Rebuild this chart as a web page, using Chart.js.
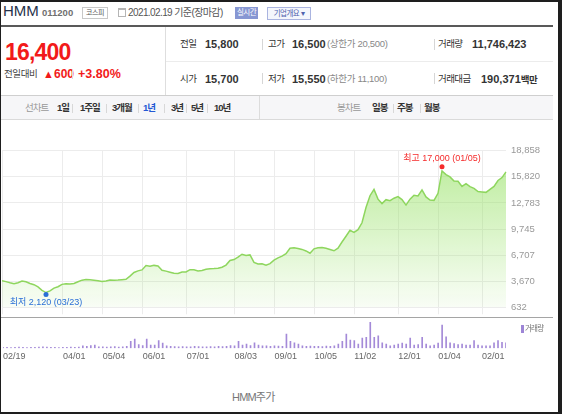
<!DOCTYPE html>
<html lang="ko">
<head>
<meta charset="utf-8">
<title>HMM주가</title>
<script src="https://cdn.jsdelivr.net/npm/chart.js@4.4.1/dist/chart.umd.min.js"></script>
<style>
html, body { margin: 0; padding: 0; background: #fff; }
body { width: 562px; height: 414px; position: relative; overflow: hidden;
       font-family: "Liberation Sans", "Noto Sans CJK KR", sans-serif; color: #333; }
.t { position: absolute; white-space: nowrap; line-height: 14px; }
.b { font-weight: bold; }
.box { position: absolute; }
.red { color: #f21a1a; }
.blue { color: #1f66dd; }
.gray { color: #888; }
.sep { position: absolute; width: 1px; height: 11px; background: #d6d6d6; }
.lab { font-size: 9.5px; color: #333; letter-spacing: -0.6px; }
.val { font-size: 11px; font-weight: bold; color: #333; letter-spacing: 0; }
.tab { font-size: 9.5px; font-weight: bold; color: #333; top: 101px; letter-spacing: -1px; }
.tsep { position: absolute; width: 1px; height: 9px; background: #d8d8d8; top: 104px; }
#frame { position: absolute; left: 0; top: 0; width: 562px; height: 414px; box-sizing: border-box;
         border-style: solid; border-color: #1e1e1e; border-width: 2px 4px 2px 1px; z-index: 10; }
canvas { position: absolute; left: 0; }
</style>
</head>
<body>
<div id="frame"></div>

<!-- 상단 종목 정보 -->
<div class="t" style="left:3px;top:3px;font-size:15px;line-height:15px;color:#26324a;">HMM</div>
<div class="t b" style="left:42px;top:5.6px;font-size:9.5px;color:#707070;">011200</div>
<div class="box" style="left:82px;top:7px;width:24px;height:10px;border:1px solid #c8c8c8;font-size:7px;line-height:10px;text-align:center;color:#555;letter-spacing:-0.5px;">코스피</div>
<div class="box" style="left:118px;top:8px;width:6px;height:6px;border:1px solid #b5b5b5;border-top-width:2px;"></div>
<div class="t" style="left:128px;top:5.8px;font-size:10px;color:#555;letter-spacing:-0.6px;">2021.02.19 기준(장마감)</div>
<div class="box" style="left:235px;top:7px;width:23px;height:12px;background:#8797d3;color:#fff;font-size:7.5px;line-height:12px;text-align:center;letter-spacing:-0.5px;">실시간</div>
<div class="box" style="left:267px;top:7px;width:42px;height:11px;border:1px solid #aab4e0;background:#f4f6fc;color:#4f62ad;font-size:7.5px;line-height:11px;text-align:center;letter-spacing:-0.5px;">기업개요 ▾</div>

<div class="box" style="left:0;top:25px;width:553px;height:2px;background:#595959;"></div>
<div class="box" style="left:165px;top:27px;width:1px;height:68px;background:#dedede;"></div>
<div class="box" style="left:166px;top:61px;width:387px;height:1px;background:#ececec;"></div>
<div class="box" style="left:0;top:95px;width:553px;height:1px;background:#cfcfcf;"></div>

<!-- 현재가 -->
<div class="t b red" style="left:5px;top:39.5px;font-size:23px;line-height:24px;letter-spacing:-0.8px;">16,400</div>
<div class="t" style="left:4px;top:67px;font-size:9.5px;color:#444;letter-spacing:-0.4px;">전일대비</div>
<div class="t red" style="left:43px;top:67px;font-size:11px;">▲</div>
<div class="t b red" style="left:54px;top:67px;font-size:12px;">600</div>
<div class="box" style="left:72px;top:69px;width:1px;height:10px;background:#ddd;"></div>
<div class="t b red" style="left:78px;top:67px;font-size:12.5px;">+3.80%</div>

<!-- 1행 -->
<div class="t lab" style="left:180px;top:37px;">전일</div>
<div class="t val" style="left:205px;top:37px;">15,800</div>
<div class="sep" style="left:262px;top:38.5px;"></div>
<div class="t lab" style="left:268px;top:37px;">고가</div>
<div class="t val red" style="left:292px;top:37px;">16,500</div>
<div class="t gray" style="left:327px;top:37px;font-size:9.5px;letter-spacing:-0.3px;">(상한가 20,500)</div>
<div class="sep" style="left:434px;top:38.5px;"></div>
<div class="t lab" style="left:438px;top:37px;">거래량</div>
<div class="t val" style="left:472px;top:37px;">11,746,423</div>

<!-- 2행 -->
<div class="t lab" style="left:180px;top:71.5px;">시가</div>
<div class="t val blue" style="left:205px;top:71.5px;">15,700</div>
<div class="sep" style="left:262px;top:73px;"></div>
<div class="t lab" style="left:268px;top:71.5px;">저가</div>
<div class="t val blue" style="left:292px;top:71.5px;">15,550</div>
<div class="t gray" style="left:327px;top:71.5px;font-size:9.5px;letter-spacing:-0.3px;">(하한가 11,100)</div>
<div class="sep" style="left:434px;top:73px;"></div>
<div class="t lab" style="left:438px;top:71.5px;">거래대금</div>
<div class="t val" style="left:481px;top:71.5px;">190,371<span style="font-size:9.5px;letter-spacing:-0.6px;">백만</span></div>

<!-- 탭 -->
<div class="box" style="left:0;top:96px;width:553px;height:23px;background:#f6f6f8;border-bottom:1px solid #dadada;"></div>
<div class="box" style="left:259px;top:96px;width:1px;height:23px;background:#dcdcdc;"></div>
<div class="t tab" style="left:25px;color:#999;font-weight:normal;">선차트</div>
<div class="t tab" style="left:57px;">1일</div>
<div class="tsep" style="left:72px;"></div>
<div class="t tab" style="left:80px;">1주일</div>
<div class="tsep" style="left:106px;"></div>
<div class="t tab" style="left:112px;">3개월</div>
<div class="tsep" style="left:138px;"></div>
<div class="t tab" style="left:143px;color:#2458d4;">1년</div>
<div class="tsep" style="left:164px;"></div>
<div class="t tab" style="left:171px;">3년</div>
<div class="tsep" style="left:186px;"></div>
<div class="t tab" style="left:191px;">5년</div>
<div class="tsep" style="left:207px;"></div>
<div class="t tab" style="left:214px;">10년</div>
<div class="t tab" style="left:337px;color:#999;font-weight:normal;">봉차트</div>
<div class="t tab" style="left:372px;">일봉</div>
<div class="tsep" style="left:393px;"></div>
<div class="t tab" style="left:397px;">주봉</div>
<div class="tsep" style="left:420px;"></div>
<div class="t tab" style="left:424px;">월봉</div>

<!-- 차트 -->
<canvas id="priceChart" width="553" height="178" style="top:140px;"></canvas>
<div class="box" style="left:0;top:317px;width:553px;height:1px;background:#a5a5a5;"></div>
<canvas id="volumeChart" width="553" height="47" style="top:318px;"></canvas>
<div class="box" style="left:521px;top:325px;width:2.5px;height:8px;background:#9d85d6;"></div>
<div class="t" style="left:525px;top:322px;font-size:7.5px;color:#777;letter-spacing:-0.8px;">거래량</div>

<div class="t" style="left:232px;top:390px;font-size:11px;color:#777;letter-spacing:-0.8px;">HMM주가</div>

<script>
// 그림에서 읽은 값 (1년 종가, 약 2거래일 간격)
const tickDates = ['02/19', '04/01', '05/04', '06/01', '07/01', '08/03', '09/01', '10/05', '11/02', '12/01', '01/04', '02/01'];
const tickIdx = [0, 15, 25, 35, 46, 58, 68, 78, 88, 99, 109, 120];
const yTicks = [632, 3670, 6707, 9745, 12783, 15820, 18858];

const prices = [
   3710, 3620, 3490, 3380, 3490, 3690, 3610, 3410, 3260, 3000,
   2610, 2350, 2540, 2860, 3030, 3300, 3380, 3350, 3400, 3610,
   3790, 3860, 3840, 3790, 3720, 3630, 3690, 3800, 3780, 3800,
   3840, 3890, 4260, 4690, 4870, 4980, 5490, 5400, 5510, 5440,
   4950, 4840, 4720, 4600, 4560, 4730, 4750, 5010, 4990, 4870,
   4910, 5070, 5120, 5140, 5190, 5290, 5550, 6090, 6190, 6470,
   6810, 6670, 6730, 5860, 5670, 5700, 5520, 5720, 6120, 6390,
   6580, 6870, 7500, 7570, 7470, 7370, 7190, 6920, 7440, 7550,
   7600, 7500, 7350, 7210, 7520, 8230, 8900, 9590, 9360, 9670,
   10470, 12240, 13620, 14360, 13220, 12700, 13160, 13040, 13330, 13510,
   13160, 12530, 13220, 13670, 13600, 14300, 13480, 13120, 13080, 13900,
   16500, 16080, 15810, 15320, 15310, 14700, 15020, 14670, 14470, 14100,
   14050, 14010, 14360, 14700, 15390, 15730, 16400
];

// 거래량 (백만주)
const volumes = [
   2, 2, 1.5, 2, 2.5, 2, 1.5, 2, 2, 2.5,
   3, 2.5, 2, 2, 1.5, 2, 2, 2.5, 2, 2.5,
   5, 4, 6, 7, 3, 3, 2.5, 3, 3.5, 2.5,
   3, 4, 15, 20, 8, 6, 20, 7, 7, 17,
   11, 5, 4, 3.5, 3, 3.5, 3, 3, 4, 3.5,
   3, 3, 3.5, 3, 4, 3.5, 4, 6, 5, 15,
   7, 9, 6, 12, 7, 5, 5, 4, 5, 4.5,
   4, 31, 15, 12, 9, 5, 4, 4.5, 4, 4,
   3.5, 4.5, 4, 5, 9, 15, 31, 18, 17, 9,
   22, 24, 57, 24, 27, 12, 9, 5, 7, 9,
   11, 9, 22, 7, 8, 24, 9, 5, 7, 11,
   51, 25, 12, 10, 8, 9, 7, 7, 17, 7,
   5, 5, 5, 12, 17, 13, 12
];

const highIdx = 110, highValue = 17000, highText = '최고 17,000 (01/05)';
const lowIdx = 11, lowValue = 2120, lowText = '최저 2,120 (03/23)';

const labels = prices.map((p, i) => {
   const k = tickIdx.indexOf(i);
   return k >= 0 ? tickDates[k] : '';
});

Chart.defaults.font.family = '"Liberation Sans", "Noto Sans CJK KR", sans-serif';

// 최고/최저 표시
const markPlugin = {
   id: 'marks',
   afterDatasetsDraw(chart) {
      const { ctx, scales: { x, y } } = chart;
      const marks = [
         { i: highIdx, v: highValue, text: highText, color: '#f52b2b', dy: -8 },
         { i: lowIdx, v: lowValue, text: lowText, color: '#2a6fd6', dy: 8 }
      ];
      ctx.save();
      ctx.font = '9px "Liberation Sans", "Noto Sans CJK KR", sans-serif';
      ctx.textAlign = 'center';
      ctx.textBaseline = 'middle';
      marks.forEach(m => {
         const px = x.getPixelForValue(m.i);
         const py = y.getPixelForValue(m.v);
         ctx.fillStyle = m.color;
         ctx.beginPath();
         ctx.arc(px, py, 2.5, 0, Math.PI * 2);
         ctx.fill();
         ctx.fillText(m.text, px, py + m.dy);
      });
      ctx.restore();
   }
};

const priceCtx = document.getElementById('priceChart').getContext('2d');
const priceChart = new Chart(priceCtx, {
   type: 'line',
   data: {
      labels: labels,
      datasets: [{
         data: prices,
         borderColor: '#8ed65e',
         borderWidth: 1.5,
         pointRadius: 0,
         tension: 0,
         fill: 'start',
         backgroundColor: (context) => {
            const { chartArea, ctx } = context.chart;
            if (!chartArea) return null;
            const g = ctx.createLinearGradient(0, chartArea.top, 0, chartArea.bottom);
            g.addColorStop(0, 'rgba(150,225,100,0.66)');
            g.addColorStop(1, 'rgba(150,225,100,0.06)');
            return g;
         }
      }]
   },
   options: {
      responsive: false,
      animation: false,
      devicePixelRatio: 1,
      layout: { padding: { left: 2, top: 10.7, right: 0, bottom: 1 } },
      plugins: { legend: { display: false }, tooltip: { enabled: false } },
      scales: {
         x: {
            offset: false,
            border: { display: false },
            ticks: { display: false, autoSkip: false },
            grid: {
               drawTicks: true,
               tickLength: 7,
               color: (c) => tickIdx.includes(c.index) ? '#ececec' : 'rgba(0,0,0,0)'
            }
         },
         y: {
            position: 'right',
            min: 632,
            max: 18858,
            afterBuildTicks: (s) => { s.ticks = yTicks.map(v => ({ value: v })); },
            afterFit: (s) => { s.width = 47; },
            border: { display: false },
            grid: { color: '#ececec', drawTicks: false },
            ticks: {
               padding: 5,
               color: '#999',
               font: { size: 9.5 },
               callback: (v) => Math.round(v).toLocaleString('en-US')
            }
         }
      }
   },
   plugins: [markPlugin]
});

const volCtx = document.getElementById('volumeChart').getContext('2d');
const volumeChart = new Chart(volCtx, {
   type: 'bar',
   data: {
      labels: labels,
      datasets: [{
         data: volumes,
         backgroundColor: '#a48ad8',
         barThickness: 1
      }]
   },
   options: {
      responsive: false,
      animation: false,
      devicePixelRatio: 1,
      layout: { padding: { left: 2, top: 2, right: 47, bottom: 0 } },
      plugins: { legend: { display: false }, tooltip: { enabled: false } },
      scales: {
         x: {
            offset: false,
            border: { display: false },
            grid: { display: false, drawTicks: false },
            ticks: {
               autoSkip: false,
               maxRotation: 0,
               align: 'start',
               padding: 3,
               color: '#666',
               font: { size: 9 },
               callback: (v, i) => labels[i]
            }
         },
         y: { display: false, min: 0, max: 62 }
      }
   }
});
</script>
</body>
</html>
